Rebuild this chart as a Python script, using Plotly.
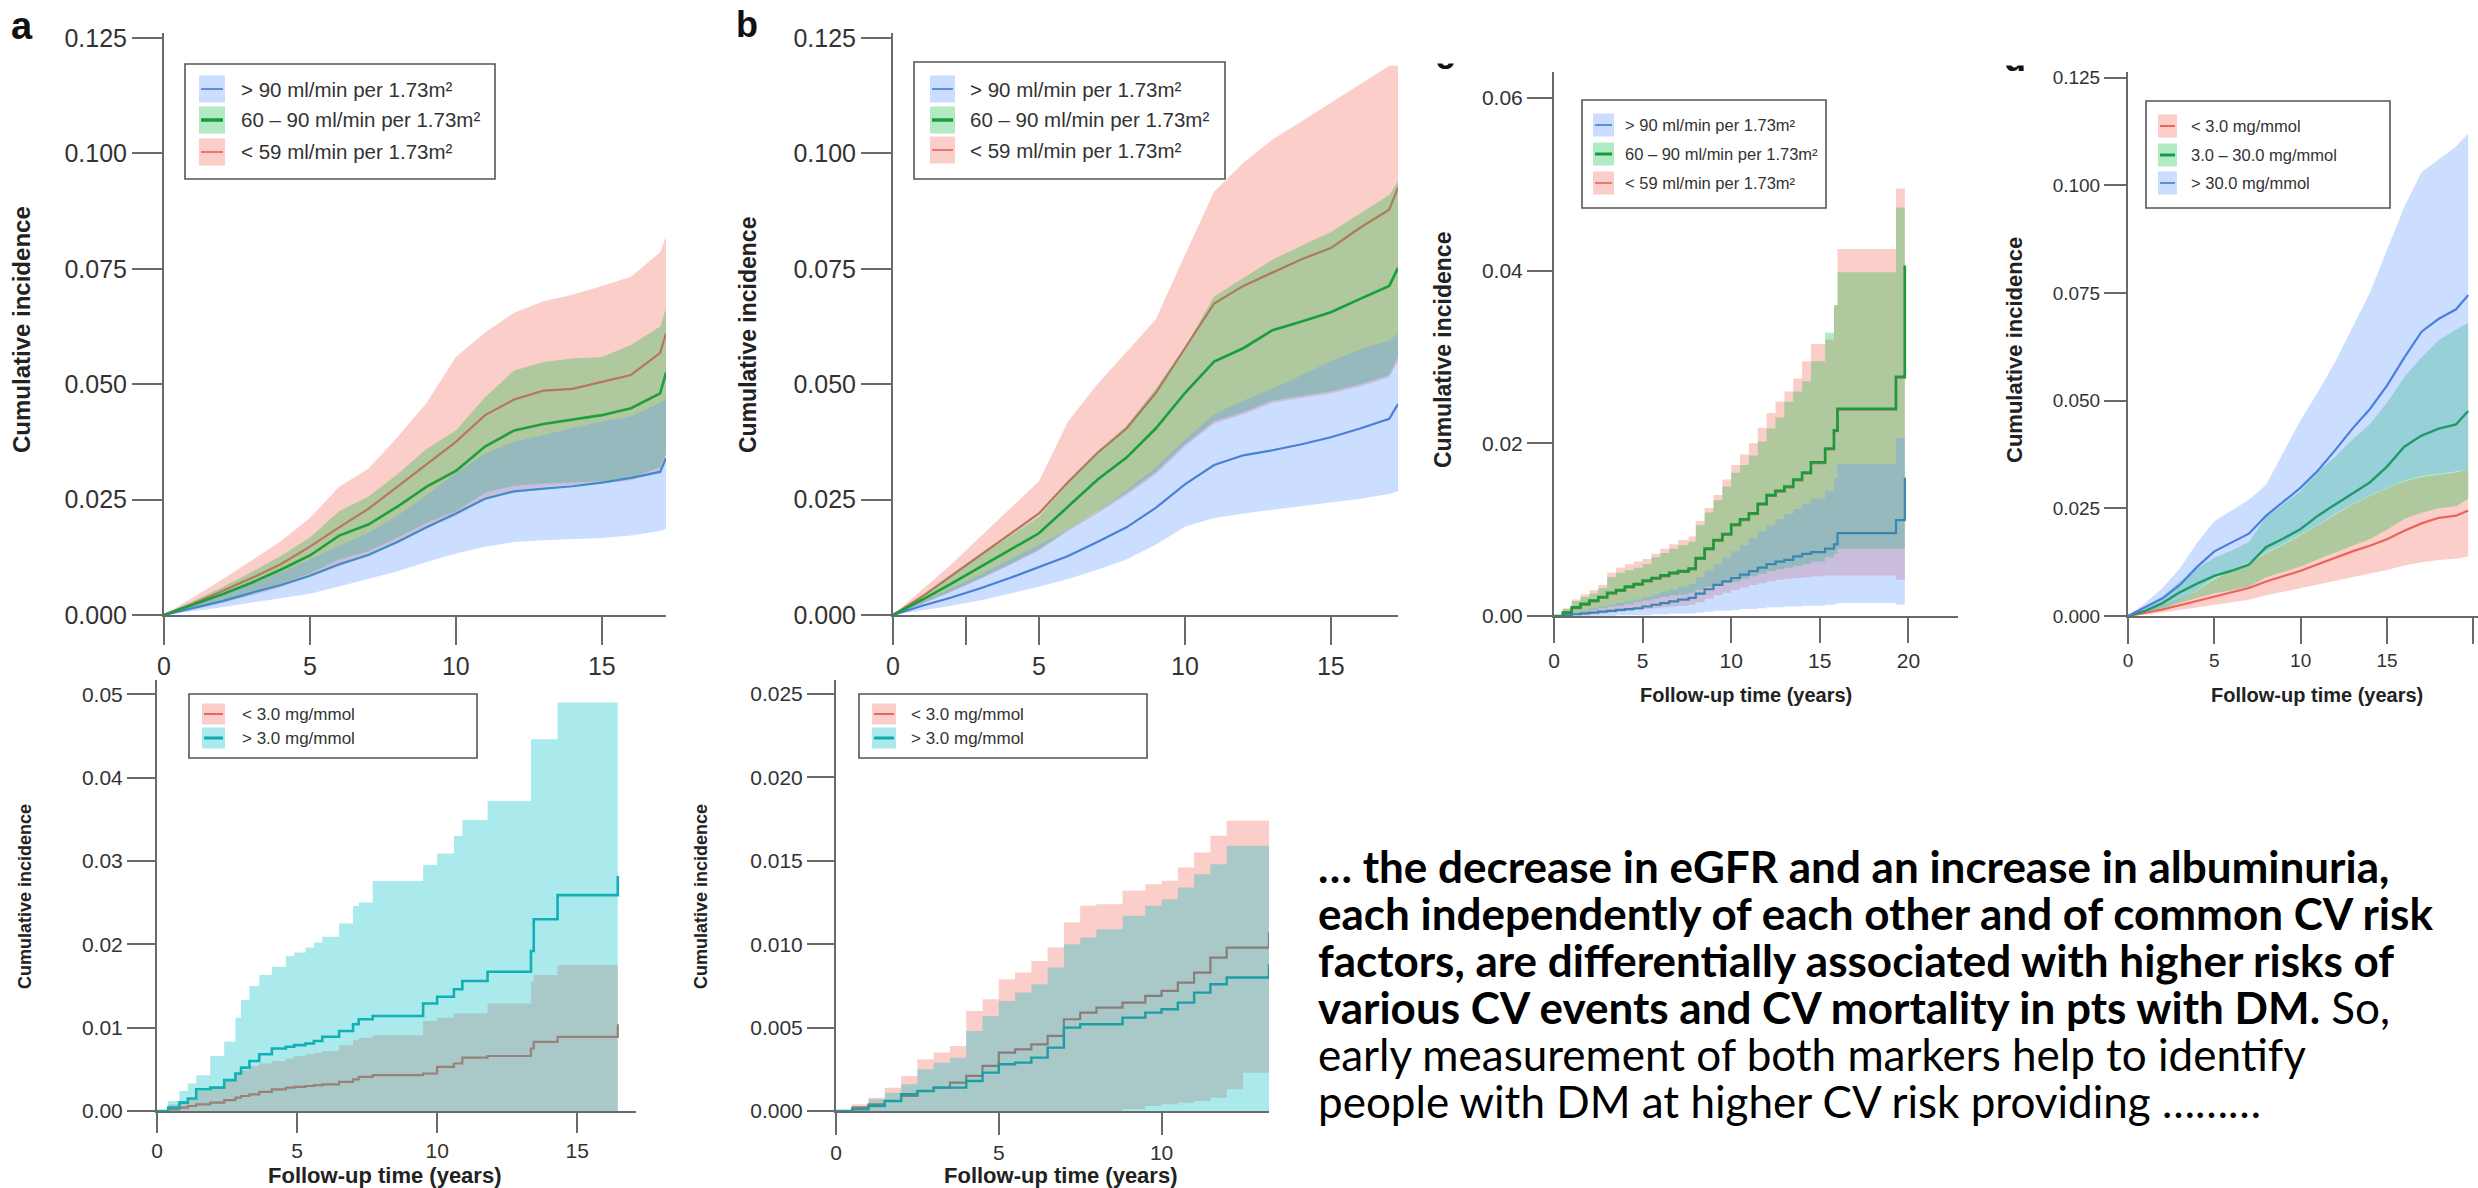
import plotly.graph_objects as go

W, H = 2478, 1188
def px(x): return x / W
def py(y): return 1 - y / H

# ---------------- DATA ----------------
# Panel a (eGFR groups)
a_t = [0,1,2,3,4,5,6,7,8,9,10,11,12,13,14,15,16,17,17.2]
a_blue_est = [0,0.0015,0.003,0.0048,0.0065,0.0085,0.011,0.013,0.0158,0.019,0.022,0.0252,0.0268,0.0274,0.0279,0.0287,0.0297,0.031,0.034]
a_blue_lo = [0,0.0008,0.0017,0.0027,0.0036,0.0046,0.0062,0.0078,0.0095,0.0115,0.0133,0.0148,0.0158,0.0162,0.0164,0.0167,0.0172,0.0182,0.0187]
a_blue_hi = [0,0.0022,0.0045,0.0068,0.0092,0.012,0.015,0.0178,0.0215,0.026,0.0307,0.035,0.0375,0.039,0.0405,0.042,0.043,0.046,0.047]
a_green_est = [0,0.0022,0.0045,0.007,0.0098,0.0129,0.0172,0.0196,0.0235,0.0278,0.0312,0.0365,0.04,0.0414,0.0424,0.0433,0.0448,0.048,0.0525]
a_green_lo = [0,0.0015,0.003,0.0048,0.0068,0.009,0.012,0.0138,0.0168,0.02,0.0225,0.0265,0.028,0.0285,0.0288,0.029,0.0298,0.032,0.035]
a_green_hi = [0,0.003,0.006,0.0093,0.0128,0.0168,0.0225,0.0256,0.0305,0.036,0.04,0.0472,0.053,0.0548,0.0556,0.0559,0.0585,0.0625,0.0665]
a_red_est = [0,0.0025,0.0052,0.008,0.011,0.0148,0.019,0.023,0.0278,0.0327,0.0375,0.0433,0.0467,0.0486,0.049,0.0505,0.052,0.0568,0.061]
a_red_lo = [0,0.0012,0.0026,0.0042,0.006,0.0082,0.0105,0.0128,0.0158,0.0188,0.0215,0.025,0.027,0.0278,0.0282,0.0285,0.0292,0.031,0.034]
a_red_hi = [0,0.0038,0.0077,0.0118,0.016,0.021,0.0278,0.0317,0.0385,0.046,0.0559,0.0612,0.0655,0.068,0.0694,0.0713,0.0733,0.0786,0.082]

# Panel b (eGFR groups)
b_t = [0,1,2,3,4,5,6,7,8,9,10,11,12,13,14,15,16,17,17.3]
b_blue_est = [0,0.002,0.0038,0.0058,0.008,0.0104,0.0128,0.0158,0.019,0.0232,0.0283,0.0325,0.0346,0.0357,0.037,0.0385,0.0404,0.0425,0.0457]
b_blue_lo = [0,0.001,0.002,0.0032,0.0046,0.0061,0.0078,0.0098,0.012,0.0152,0.0191,0.021,0.022,0.0228,0.0237,0.0245,0.0252,0.0262,0.0268]
b_blue_hi = [0,0.003,0.0058,0.0088,0.012,0.0153,0.0185,0.0225,0.027,0.032,0.038,0.0435,0.0465,0.049,0.052,0.055,0.0575,0.0595,0.061]
b_green_est = [0,0.0033,0.0068,0.0104,0.014,0.0177,0.0235,0.0293,0.0341,0.0404,0.0481,0.0549,0.0578,0.0617,0.0636,0.0656,0.0685,0.0713,0.0752]
b_green_lo = [0,0.0025,0.0052,0.008,0.011,0.0142,0.0185,0.0225,0.0265,0.031,0.037,0.042,0.044,0.0465,0.0475,0.0485,0.05,0.052,0.056]
b_green_hi = [0,0.0042,0.0085,0.0128,0.017,0.0213,0.0285,0.0355,0.041,0.049,0.058,0.069,0.073,0.077,0.08,0.083,0.087,0.091,0.094]
b_red_est = [0,0.004,0.0085,0.013,0.0175,0.022,0.0288,0.0351,0.0404,0.0481,0.0578,0.0675,0.0713,0.0742,0.0771,0.0795,0.0839,0.0878,0.0926]
b_red_lo = [0,0.0024,0.005,0.0078,0.0108,0.014,0.0182,0.022,0.026,0.0305,0.0365,0.0415,0.0435,0.046,0.047,0.048,0.0495,0.0515,0.055]
b_red_hi = [0,0.0055,0.011,0.017,0.023,0.029,0.042,0.05,0.057,0.064,0.078,0.0917,0.098,0.103,0.107,0.111,0.115,0.119,0.119]

# Panel c (eGFR groups, step curves)
c_t = [0,0.5,1,1.5,2,2.5,3,3.5,4,4.5,5,5.5,6,6.5,7,7.6,8,8.5,9,9.5,10,10.5,11,11.5,12,12.5,13,13.5,14,14.5,15.3,15.8,16,19.3,19.8]
c_green_est = [0,0.0004,0.001,0.0014,0.0018,0.0022,0.0027,0.003,0.0034,0.0037,0.0041,0.0044,0.0047,0.005,0.0052,0.0055,0.0067,0.0078,0.0088,0.0095,0.0106,0.0112,0.0119,0.013,0.014,0.0145,0.015,0.0158,0.0166,0.0178,0.0194,0.0215,0.024,0.0277,0.0406]
c_green_lo = [0,0.0001,0.0003,0.0005,0.0007,0.0009,0.0011,0.0012,0.0014,0.0016,0.0018,0.002,0.0022,0.0024,0.0025,0.0027,0.003,0.0034,0.0037,0.0039,0.004,0.0043,0.0046,0.0049,0.0052,0.0054,0.0056,0.0058,0.006,0.0063,0.0068,0.0072,0.0078,0.0078,0.0078]
c_green_hi = [0,0.0008,0.0017,0.0022,0.0026,0.0032,0.0045,0.005,0.0053,0.0056,0.006,0.0068,0.0073,0.0078,0.0082,0.0086,0.0105,0.012,0.0134,0.015,0.0166,0.0175,0.0186,0.0202,0.0217,0.023,0.0248,0.026,0.0272,0.0295,0.0328,0.036,0.0398,0.0473,0.0473]
c_blue_est = [0,0.0001,0.0002,0.0003,0.0004,0.0005,0.0006,0.0007,0.0008,0.0009,0.0011,0.0013,0.0015,0.0017,0.0019,0.0021,0.0026,0.0031,0.0036,0.004,0.0044,0.0048,0.0052,0.0056,0.006,0.0063,0.0065,0.0069,0.0072,0.0074,0.0078,0.0083,0.0096,0.0111,0.016]
c_blue_lo = [0,0,0,0,0,0,0,0.0001,0.0001,0.0001,0.0001,0.0002,0.0002,0.0003,0.0003,0.0003,0.0004,0.0005,0.0006,0.0006,0.0007,0.0008,0.0008,0.0009,0.001,0.001,0.0011,0.0011,0.0012,0.0012,0.0013,0.0014,0.0015,0.0013,0.0012]
c_blue_hi = [0,0.0003,0.0005,0.0007,0.0009,0.0011,0.0013,0.0015,0.0017,0.0019,0.0022,0.0025,0.0028,0.0031,0.0034,0.0037,0.0045,0.0053,0.006,0.0068,0.0075,0.0082,0.009,0.0098,0.0105,0.0112,0.0118,0.0124,0.013,0.0136,0.0145,0.016,0.0176,0.0206,0.0206]
c_red_est = [0,0.0004,0.0009,0.0013,0.0017,0.0021,0.0026,0.0029,0.0033,0.0036,0.004,0.0043,0.0046,0.0049,0.0051,0.0054,0.0066,0.0077,0.0087,0.0094,0.0105,0.0111,0.0118,0.0129,0.0139,0.0144,0.0149,0.0157,0.0165,0.0177,0.0193,0.0214,0.0239,0.0276,0.0405]
c_red_lo = [0,0,0.0001,0.0001,0.0002,0.0003,0.0004,0.0005,0.0006,0.0007,0.0008,0.0009,0.001,0.0011,0.0012,0.0013,0.0016,0.002,0.0024,0.0027,0.003,0.0033,0.0036,0.0038,0.004,0.0042,0.0043,0.0044,0.0045,0.0046,0.0047,0.0047,0.0047,0.0042,0.004]
c_red_hi = [0,0.0009,0.0019,0.0025,0.003,0.0036,0.005,0.0056,0.006,0.0063,0.0066,0.0072,0.0078,0.0083,0.0088,0.0092,0.011,0.0125,0.014,0.0158,0.0175,0.0187,0.02,0.0218,0.0235,0.0248,0.026,0.0275,0.0295,0.0315,0.032,0.036,0.0425,0.0495,0.0495]

# Panel d (albuminuria groups)
d_t = [0,1,2,3,4,5,6,7,8,9,10,11,12,13,14,15,16,17,18,19,19.7]
d_blue_est = [0,0.002,0.0041,0.0072,0.0114,0.015,0.017,0.0191,0.0233,0.0265,0.0298,0.0338,0.0385,0.0435,0.048,0.0535,0.06,0.066,0.069,0.0712,0.0745]
d_blue_lo = [0,0.001,0.002,0.0038,0.006,0.009,0.0108,0.0125,0.0148,0.0168,0.019,0.0212,0.0238,0.026,0.028,0.0298,0.0315,0.0325,0.033,0.0335,0.034]
d_blue_hi = [0,0.003,0.0065,0.011,0.017,0.022,0.0245,0.027,0.0305,0.038,0.0455,0.052,0.059,0.067,0.075,0.085,0.095,0.103,0.106,0.109,0.112]
d_green_est = [0,0.0012,0.003,0.0055,0.0075,0.0093,0.0105,0.0119,0.016,0.018,0.0202,0.0233,0.0259,0.0285,0.031,0.0347,0.0393,0.0419,0.0435,0.0445,0.0476]
d_green_lo = [0,0.0006,0.0016,0.003,0.0042,0.0053,0.006,0.0068,0.009,0.0102,0.0115,0.0132,0.0148,0.0163,0.0178,0.02,0.0225,0.024,0.025,0.0255,0.0272]
d_green_hi = [0,0.002,0.0045,0.008,0.011,0.0135,0.0152,0.0172,0.023,0.026,0.029,0.0335,0.037,0.041,0.0445,0.0495,0.0555,0.06,0.064,0.0665,0.068]
d_red_est = [0,0.0007,0.0015,0.0025,0.0035,0.0045,0.0055,0.0065,0.008,0.0093,0.0105,0.012,0.0135,0.015,0.0163,0.0178,0.0198,0.0215,0.0228,0.0233,0.0245]
d_red_lo = [0,0.0003,0.0008,0.0014,0.002,0.0026,0.0032,0.0038,0.0048,0.0056,0.0064,0.0073,0.0082,0.009,0.0098,0.0107,0.0117,0.0125,0.013,0.0133,0.0138]
d_red_hi = [0,0.0012,0.0025,0.004,0.0058,0.0085,0.0105,0.0122,0.0145,0.0165,0.0188,0.021,0.0235,0.0258,0.0278,0.0296,0.0312,0.0322,0.0328,0.0333,0.034]

# Panel e (bottom left, albuminuria 2 groups, steps)
e_t = [0,0.4,0.8,1.1,1.4,1.9,2.4,2.8,3.0,3.3,3.65,4.1,4.6,4.9,5.3,5.6,5.9,6.5,7.0,7.2,7.7,9.5,10.0,10.6,10.9,11.8,13.35,13.45,14.3,16.45]
e_cyan_est = [0,0.0004,0.001,0.0015,0.0026,0.0028,0.0037,0.0045,0.0052,0.006,0.0068,0.0075,0.0077,0.0079,0.0081,0.0084,0.0089,0.0096,0.0104,0.011,0.0114,0.0129,0.0137,0.0146,0.0156,0.0167,0.0192,0.023,0.0259,0.0282]
e_cyan_lo = [0,0,0,0,0,0,0,0,0,0,0,0,0,0,0,0,0,0,0,0,0,0,0,0,0,0,0,0,0,0]
e_cyan_hi = [0,0.0012,0.0024,0.0033,0.0043,0.0066,0.0083,0.0112,0.0133,0.015,0.0163,0.0173,0.0186,0.019,0.0196,0.0202,0.0209,0.0225,0.0246,0.025,0.0276,0.0295,0.0309,0.033,0.0349,0.0372,0.0446,0.0446,0.049,0.049]
e_red_est = [0,0.0002,0.0004,0.0006,0.0008,0.001,0.0013,0.0016,0.0018,0.002,0.0023,0.0026,0.0028,0.0029,0.003,0.0031,0.0032,0.0035,0.0038,0.0041,0.0043,0.0045,0.0053,0.0057,0.0064,0.0066,0.0075,0.0083,0.0089,0.0104]
e_red_lo = [0,0,0,0,0,0,0,0,0,0,0,0,0,0,0,0,0,0,0,0,0,0,0,0,0,0,0,0,0,0]
e_red_hi = [0,0.0008,0.0012,0.0016,0.0024,0.003,0.0037,0.0045,0.0049,0.0054,0.0057,0.006,0.0063,0.0066,0.0068,0.007,0.0072,0.0079,0.0085,0.0088,0.0091,0.0108,0.0112,0.0117,0.0117,0.0129,0.0155,0.0163,0.0175,0.0175]

# Panel f (bottom middle, albuminuria 2 groups, steps)
f_t = [0,0.5,1,1.5,2,2.5,3,3.5,4,4.5,5,5.5,6,6.5,7,7.5,8,8.8,9.5,10,10.5,11,11.5,12,12.5,13.3]
f_red_est = [0,0.0002,0.0004,0.0006,0.0009,0.0012,0.0014,0.0017,0.0021,0.0027,0.0035,0.0037,0.004,0.0045,0.0055,0.0059,0.0062,0.0065,0.0069,0.0072,0.0077,0.0083,0.0092,0.0098,0.0098,0.0107]
f_red_lo = [0,0,0,0,0,0,0,0,0,0,0,0,0,0,0,0,0,0.0001,0.0003,0.0004,0.0005,0.0006,0.0008,0.0013,0.0023,0.0023]
f_red_hi = [0,0.0004,0.0008,0.0014,0.0021,0.0031,0.0035,0.0039,0.006,0.0067,0.0079,0.0083,0.009,0.0098,0.0113,0.0123,0.0124,0.0132,0.0136,0.0138,0.0146,0.0155,0.0165,0.0174,0.0174,0.0174]
f_cyan_est = [0,0.0001,0.0003,0.0006,0.001,0.0012,0.0014,0.0014,0.0018,0.0023,0.0028,0.0029,0.0032,0.0038,0.005,0.0052,0.0052,0.0056,0.0059,0.0061,0.0065,0.0071,0.0076,0.008,0.008,0.0088]
f_cyan_lo = [0,0,0,0,0,0,0,0,0,0,0,0,0,0,0,0,0,0,0,0,0,0,0,0,0,0]
f_cyan_hi = [0,0.0003,0.0007,0.0011,0.0016,0.0025,0.0029,0.0032,0.0048,0.0057,0.0066,0.0071,0.0076,0.0086,0.01,0.0104,0.0109,0.0117,0.0123,0.0127,0.0134,0.0142,0.0148,0.0159,0.0159,0.0159]

# Legend labels
egfr_labels = ["> 90 ml/min per 1.73m²", "60 – 90 ml/min per 1.73m²", "< 59 ml/min per 1.73m²"]
acr3_labels = ["< 3.0 mg/mmol", "3.0 – 30.0 mg/mmol", "> 30.0 mg/mmol"]
acr2_labels = ["< 3.0 mg/mmol", "> 3.0 mg/mmol"]

text_lines = [
    "<b>… the decrease in eGFR and an increase in albuminuria,</b>",
    "<b>each independently of each other and of common CV risk</b>",
    "<b>factors, are differentially associated with higher risks of</b>",
    "<b>various CV events and CV mortality in pts with DM.</b> So,",
    "early measurement of both markers help to identify",
    "people with DM at higher CV risk providing ………",
]

# ---------------- STYLE ----------------
F_RED = "rgba(248,118,109,0.36)"
F_GREEN = "rgba(0,186,56,0.30)"
F_BLUE = "rgba(97,156,255,0.33)"
F_CYAN = "rgba(0,191,196,0.33)"
AX = "#6a6a6a"
TXT = "#333333"
FONT = "Liberation Sans, Arial, sans-serif"

fig = go.Figure()

def band(t, lo, hi, fill, ax, shape):
    xa, ya = ax
    fig.add_trace(go.Scatter(x=t, y=lo, mode="lines", line=dict(width=0, shape=shape),
                             showlegend=False, hoverinfo="skip", xaxis=xa, yaxis=ya))
    fig.add_trace(go.Scatter(x=t, y=hi, mode="lines", line=dict(width=0, shape=shape),
                             fill="tonexty", fillcolor=fill, showlegend=False,
                             hoverinfo="skip", xaxis=xa, yaxis=ya))

def curve(t, v, color, ax, shape, w=2.2):
    xa, ya = ax
    fig.add_trace(go.Scatter(x=t, y=v, mode="lines", line=dict(width=w, color=color, shape=shape),
                             showlegend=False, hoverinfo="skip", xaxis=xa, yaxis=ya))

A, B, C, D, E, Fp = ("x", "y"), ("x2", "y2"), ("x3", "y3"), ("x4", "y4"), ("x5", "y5"), ("x6", "y6")

# panel a
band(a_t, a_red_lo, a_red_hi, F_RED, A, "linear")
band(a_t, a_green_lo, a_green_hi, F_GREEN, A, "linear")
band(a_t, a_blue_lo, a_blue_hi, F_BLUE, A, "linear")
curve(a_t, a_red_est, "#b9765e", A, "linear")
curve(a_t, a_blue_est, "#3f8dc6", A, "linear")
curve(a_t, a_green_est, "#1f9e3c", A, "linear", 2.6)
# panel b
band(b_t, b_red_lo, b_red_hi, F_RED, B, "linear")
band(b_t, b_green_lo, b_green_hi, F_GREEN, B, "linear")
band(b_t, b_blue_lo, b_blue_hi, F_BLUE, B, "linear")
curve(b_t, b_red_est, "#ad7a5a", B, "linear")
curve(b_t, b_blue_est, "#4a7fd6", B, "linear")
curve(b_t, b_green_est, "#17a03a", B, "linear", 2.6)
# panel c
band(c_t, c_red_lo, c_red_hi, F_RED, C, "hv")
band(c_t, c_green_lo, c_green_hi, F_GREEN, C, "hv")
band(c_t, c_blue_lo, c_blue_hi, F_BLUE, C, "hv")
curve(c_t, c_red_est, "#a87a5c", C, "hv")
curve(c_t, c_blue_est, "#3a86ae", C, "hv")
curve(c_t, c_green_est, "#1a9a3a", C, "hv", 2.6)
# panel d
band(d_t, d_red_lo, d_red_hi, F_RED, D, "linear")
band(d_t, d_green_lo, d_green_hi, F_GREEN, D, "linear")
band(d_t, d_blue_lo, d_blue_hi, F_BLUE, D, "linear")
curve(d_t, d_red_est, "#e8645c", D, "linear")
curve(d_t, d_green_est, "#1f9a6a", D, "linear", 2.4)
curve(d_t, d_blue_est, "#4a7fe0", D, "linear")
# panel e
band(e_t, e_red_lo, e_red_hi, F_RED, E, "hv")
band(e_t, e_cyan_lo, e_cyan_hi, F_CYAN, E, "hv")
curve(e_t, e_red_est, "#9a7f7a", E, "hv")
curve(e_t, e_cyan_est, "#10b0b6", E, "hv", 2.6)
# panel f
band(f_t, f_red_lo, f_red_hi, F_RED, Fp, "hv")
band(f_t, f_cyan_lo, f_cyan_hi, F_CYAN, Fp, "hv")
curve(f_t, f_red_est, "#8a7c78", Fp, "hv")
curve(f_t, f_cyan_est, "#1a9fa5", Fp, "hv", 2.4)

def axis_pair(xl, xr, xrange, xtv, xtt, yb, yt, yrange, ytv, ytt, tsize, xlen, ylen, xanchor, yanchor):
    xa = dict(domain=[px(xl), px(xr)], range=xrange, anchor=yanchor, showline=True, linecolor=AX,
              linewidth=2, ticks="outside", ticklen=xlen, tickwidth=2, tickcolor=AX, showgrid=False,
              zeroline=False, tickvals=xtv, ticktext=xtt, automargin=False,
              tickfont=dict(size=tsize, color=TXT, family=FONT))
    ya = dict(domain=[py(yb), py(yt)], range=yrange, anchor=xanchor, showline=True, linecolor=AX,
              linewidth=2, ticks="outside", ticklen=ylen, tickwidth=2, tickcolor=AX, showgrid=False,
              zeroline=False, tickvals=ytv, ticktext=ytt, automargin=False,
              tickfont=dict(size=tsize, color=TXT, family=FONT))
    return xa, ya

yt125 = [0, 0.025, 0.05, 0.075, 0.1, 0.125]
yt125_t = ["0.000", "0.025", "0.050", "0.075", "0.100", "0.125"]
xa1, ya1 = axis_pair(164, 666, [0, 17.2], [0, 5, 10, 15], ["0", "5", "10", "15"], 615, 33, [0, 0.1261],
                     yt125, yt125_t, 25, 28, 30, "x", "y")
xa2, ya2 = axis_pair(893, 1398, [0, 17.3], [0, 2.5, 5, 10, 15], ["0", "", "5", "10", "15"], 615, 33, [0, 0.1261],
                     yt125, yt125_t, 25, 28, 30, "x2", "y2")
xa3, ya3 = axis_pair(1554, 1958, [0, 22.8], [0, 5, 10, 15, 20], ["0", "5", "10", "15", "20"], 616, 72, [0, 0.063],
                     [0, 0.02, 0.04, 0.06], ["0.00", "0.02", "0.04", "0.06"], 21, 25, 25, "x3", "y3")
xa4, ya4 = axis_pair(2128, 2478, [0, 20.27], [0, 5, 10, 15, 20], ["0", "5", "10", "15", "20"], 616, 72, [0, 0.1263],
                     yt125, yt125_t, 19, 26, 22, "x4", "y4")
xa5, ya5 = axis_pair(157, 636, [0, 17.1], [0, 5, 10, 15], ["0", "5", "10", "15"], 1111, 680, [0, 0.0517],
                     [0, 0.01, 0.02, 0.03, 0.04, 0.05], ["0.00", "0.01", "0.02", "0.03", "0.04", "0.05"],
                     21, 20, 28, "x5", "y5")
xa6, ya6 = axis_pair(836, 1269, [0, 13.3], [0, 5, 10], ["0", "5", "10"], 1111, 680, [0, 0.02584],
                     [0, 0.005, 0.01, 0.015, 0.02, 0.025], ["0.000", "0.005", "0.010", "0.015", "0.020", "0.025"],
                     21, 22, 27, "x6", "y6")

shapes = []
annotations = []

def ann(x, y, text, size, bold=False, angle=0, xanchor="center", yanchor="middle", color="#222222", family=FONT):
    annotations.append(dict(x=px(x), y=py(y), xref="paper", yref="paper", text=(f"<b>{text}</b>" if bold else text),
                            showarrow=False, font=dict(size=size, color=color, family=family),
                            textangle=angle, xanchor=xanchor, yanchor=yanchor))

# axis titles
ann(21, 330, "Cumulative incidence", 24, True, -90)
ann(748, 335, "Cumulative incidence", 23, True, -90)
ann(1443, 350, "Cumulative incidence", 23, True, -90)
ann(2015, 350, "Cumulative incidence", 22, True, -90)
ann(25, 897, "Cumulative incidence", 18, True, -90)
ann(701, 897, "Cumulative incidence", 18, True, -90)
ann(1746, 695, "Follow-up time (years)", 20, True)
ann(2317, 695, "Follow-up time (years)", 20, True)
ann(384, 1175, "Follow-up time (years)", 22, True)
ann(1060, 1175, "Follow-up time (years)", 22, True)

# panel letters
ann(22, 26, "a", 38, True, color="#111111")
ann(747, 24, "b", 36, True, color="#111111")
ann(1445, 56, "c", 36, True, color="#111111")
ann(2015, 58, "d", 36, True, color="#111111")
# cropping of the c / d letters in the source composite
for cx in (1445, 2015):
    annotations.append(dict(x=px(cx), y=py(0), xref="paper", yref="paper", text=" ", showarrow=False,
                            bgcolor="white", width=50, height=60 if cx == 1445 else 62,
                            xanchor="center", yanchor="top"))

# legends
def legend(box, ys, sx, tx, sh, labels, fills, lines, lws, fsize):
    x0, y0, x1, y1 = box
    shapes.append(dict(type="rect", xref="paper", yref="paper", x0=px(x0), x1=px(x1), y0=py(y1), y1=py(y0),
                       line=dict(color="#555555", width=1.6), fillcolor="white", layer="above"))
    for y, lab, fc, lc, lw in zip(ys, labels, fills, lines, lws):
        shapes.append(dict(type="rect", xref="paper", yref="paper", x0=px(sx[0]), x1=px(sx[1]),
                           y0=py(y + sh / 2), y1=py(y - sh / 2), line=dict(width=0), fillcolor=fc, layer="above"))
        shapes.append(dict(type="line", xref="paper", yref="paper", x0=px(sx[0] + 2), x1=px(sx[1] - 2),
                           y0=py(y), y1=py(y), line=dict(color=lc, width=lw), layer="above"))
        ann(tx, y, lab, fsize, xanchor="left", color=TXT)

egfr_f = [F_BLUE, F_GREEN, F_RED]
egfr_l = ["#5b8fd8", "#1a9a3a", "#e87a70"]
legend((185, 64, 495, 179), [89, 120, 152], (199, 225), 239, 27, egfr_labels, egfr_f, egfr_l, [2, 3.5, 2], 20.5)
legend((914, 62, 1225, 179), [89, 120, 150], (930, 955), 968, 27, egfr_labels, egfr_f, egfr_l, [2, 3.5, 2], 20.5)
legend((1582, 100, 1826, 208), [125, 154, 183], (1593, 1614), 1623, 23, egfr_labels, egfr_f, egfr_l, [2, 3, 2], 16.5)
legend((2146, 101, 2390, 208), [126, 155, 183], (2158, 2177), 2189, 23, acr3_labels,
       [F_RED, F_GREEN, F_BLUE], ["#e8645c", "#1a9a4a", "#5b8fd8"], [2, 3, 2], 16.5)
legend((189, 694, 477, 758), [714, 738], (202, 225), 240, 21, acr2_labels,
       [F_RED, F_CYAN], ["#e8645c", "#0fa9b0"], [2, 3], 17)
legend((859, 694, 1147, 758), [714, 738], (872, 896), 909, 21, acr2_labels,
       [F_RED, F_CYAN], ["#e8645c", "#0fa9b0"], [2, 3], 17)

# text block
for i, line in enumerate(text_lines):
    ann(1316, 866 + 47 * i, line, 44, xanchor="left", color="#000000", family="Lato, Open Sans, sans-serif")

fig.update_layout(
    width=W, height=H, margin=dict(l=0, r=0, t=0, b=0),
    paper_bgcolor="white", plot_bgcolor="rgba(0,0,0,0)", showlegend=False,
    xaxis=xa1, yaxis=ya1, xaxis2=xa2, yaxis2=ya2, xaxis3=xa3, yaxis3=ya3,
    xaxis4=xa4, yaxis4=ya4, xaxis5=xa5, yaxis5=ya5, xaxis6=xa6, yaxis6=ya6,
    shapes=shapes, annotations=annotations, font=dict(family=FONT),
)

fig.write_html("out.html")
